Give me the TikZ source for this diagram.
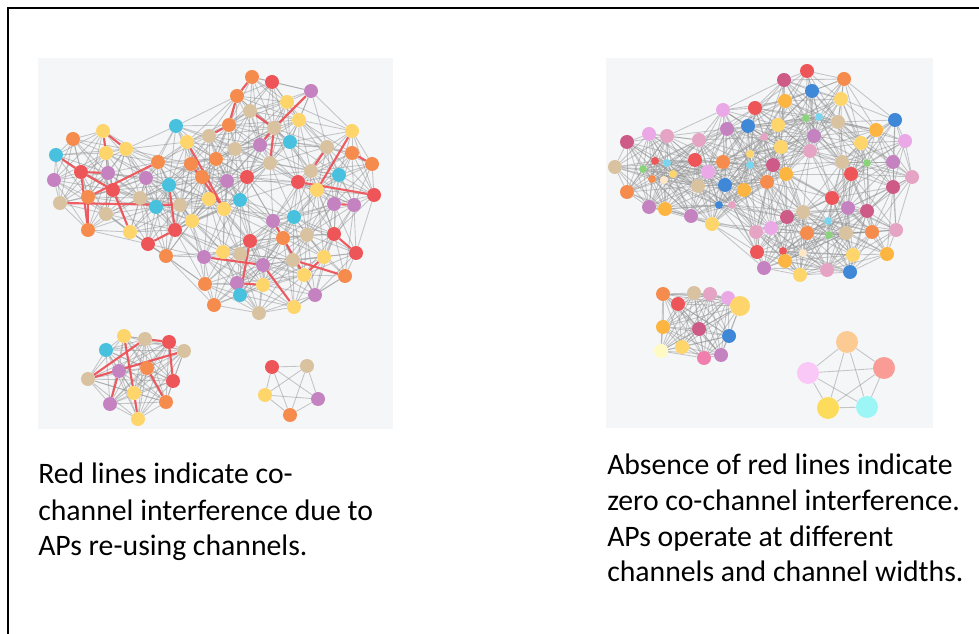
\documentclass[tikz,border=0pt]{standalone}
\usepackage{fontspec}
\setmainfont{Carlito}
\pgfdeclarelayer{bg}
\pgfsetlayers{bg,main}
\definecolor{panel}{HTML}{F5F6F8}
\definecolor{cO}{HTML}{F58C4E}
\definecolor{cR}{HTML}{EE5558}
\definecolor{cY}{HTML}{FDD56A}
\definecolor{cT}{HTML}{D8C2A0}
\definecolor{cP}{HTML}{C582C1}
\definecolor{cC}{HTML}{48C1DF}
\definecolor{cLV}{HTML}{EBA8E6}
\definecolor{cPK}{HTML}{E6A4C4}
\definecolor{cMG}{HTML}{CE5B87}
\definecolor{cBL}{HTML}{3F87D7}
\definecolor{cOY}{HTML}{FCB540}
\definecolor{cGR}{HTML}{8BD27C}
\definecolor{cCY}{HTML}{79D6EE}
\definecolor{cCR}{HTML}{FDE7C7}
\definecolor{cCR2}{HTML}{FFF9C4}
\definecolor{cHP}{HTML}{F07FAE}
\definecolor{cPE}{HTML}{FCCB94}
\definecolor{cSA}{HTML}{FA9C96}
\definecolor{cLL}{HTML}{F9C8F7}
\definecolor{cYY}{HTML}{FDDC5C}
\definecolor{cLC}{HTML}{9DF6F6}
\definecolor{redline}{HTML}{EF4F55}
\newcommand\leftnodes{a1/103/131/cY/7/1,a2/73/139/cO/7/1,a3/56/155/cC/7/1,a4/106/153/cY/7/1,
a5/126/149/cY/7/1,a6/81/172/cR/7/1,a7/108/173/cP/7/1,a8/54/180/cP/7/1,a9/113/190/cR/7/1,
a10/88/197/cO/7/1,a11/60/203/cT/7/1,a12/106/214/cT/7/1,a13/88/230/cO/7/1,a14/158/162/cO/7/1,
a15/146/178/cP/7/1,a16/169/185/cC/7/1,a17/140/198/cT/7/1,a18/156/207/cC/7/1,a19/180/205/cT/7/1,
a20/192/221/cY/7/1,a21/175/230/cR/7/1,a22/130/232/cY/7/1,a23/148/244/cR/7/1,a24/166/256/cO/7/1,
a25/176/126/cC/7/1,a26/187/142/cY/7/1,a27/209/136/cT/7/1,a28/191/164/cO/7/1,a29/216/159/cO/7/1,
a30/202/177/cO/7/1,a31/227/181/cP/7/1,a32/209/199/cY/7/1,a33/224/209/cY/7/1,a34/229/125/cO/7/1,
a35/237/96/cO/7/1,a36/252/77/cO/7/1,a37/272/82/cR/7/1,a38/311/91/cP/7/1,a39/287/102/cY/7/1,
a40/250/111/cT/7/1,a41/299/120/cY/7/1,a42/274/128/cT/7/1,a43/260/145/cP/7/1,a44/290/142/cC/7/1,
a45/235/149/cT/7/1,a46/270/163/cT/7/1,a47/247/177/cR/7/1,a48/240/200/cC/7/1,a49/352/131/cY/7/1,
a50/327/147/cT/7/1,a51/352/153/cO/7/1,a52/372/164/cO/7/1,a53/311/171/cT/7/1,a54/339/175/cC/7/1,
a55/298/182/cR/7/1,a56/317/190/cY/7/1,a57/374/195/cR/7/1,a58/334/204/cP/7/1,a59/354/205/cP/7/1,
a60/294/217/cC/7/1,a61/273/221/cP/7/1,a62/307/235/cT/7/1,a63/334/234/cR/7/1,a64/283/238/cO/7/1,
a65/250/241/cR/7/1,a66/223/252/cY/7/1,a67/240/254/cT/7/1,a68/204/257/cP/7/1,a69/263/265/cP/7/1,
a70/293/260/cT/7/1,a71/324/257/cY/7/1,a72/356/253/cR/7/1,a73/237/283/cP/7/1,a74/205/284/cO/7/1,
a75/263/285/cY/7/1,a76/240/295/cC/7/1,a77/304/275/cY/7/1,a78/345/276/cO/7/1,a79/315/295/cP/7/1,
a80/214/305/cO/7/1,a81/259/313/cT/7/1,a82/294/307/cY/7/1,
b1/124/336/cY/7/2,b2/145/339/cT/7/2,b3/169/342/cR/7/2,b4/106/350/cC/7/2,b5/184/351/cT/7/2,
b6/119/371/cP/7/2,b7/147/368/cO/7/2,b8/88/379/cT/7/2,b9/173/381/cR/7/2,b10/134/393/cY/7/2,
b11/166/402/cO/7/2,b12/110/404/cP/7/2,b13/138/419/cY/7/2,
c1/272/367/cR/7/3,c2/307/366/cT/7/3,c3/265/395/cY/7/3,c4/318/399/cP/7/3,c5/290/415/cO/7/3}
\newcommand\rightnodes{r1/723/110/cLV/7/4,r2/755/108/cR/7/4,r3/649/134/cLV/7/4,r4/667/136/cPK/7/4,
r5/627/142/cMG/7/4,r6/699/140/cPK/7/4,r7/727/129/cP/7/4,r8/748/126/cBL/7/4,r9/764/137/cPK/4/4,
r10/615/167/cT/7/4,r11/643/169/cGR/4/4,r12/655/161/cR/4/4,r13/667/163/cCY/4/4,r14/673/174/cY/4/4,
r15/652/179/cO/4/4,r16/664/180/cCR/4/4,r17/695/160/cR/7/4,r18/723/162/cO/7/4,r19/708/172/cLV/7/4,
r20/750/154/cY/4/4,r21/750/165/cCY/4/4,r22/773/165/cMG/7/4,r23/627/192/cO/7/4,r24/698/186/cT/7/4,
r25/725/185/cBL/7/4,r26/744/190/cOY/7/4,r27/767/182/cO/7/4,r28/649/207/cP/7/4,r29/665/209/cOY/7/4,
r30/719/205/cBL/4/4,r31/732/205/cPK/4/4,r32/691/216/cP/7/4,r33/712/224/cY/7/4,r34/807/71/cR/7/4,
r35/784/80/cMG/7/4,r36/844/79/cO/7/4,r37/812/91/cBL/7/4,r38/785/101/cOY/7/4,r39/841/99/cY/7/4,
r40/806/118/cGR/4/4,r41/819/117/cCY/4/4,r42/838/122/cT/7/4,r43/778/125/cY/7/4,r44/814/136/cP/7/4,
r45/781/147/cY/7/4,r46/810/151/cPK/7/4,r48/786/174/cOY/7/4,r50/895/120/cBL/7/4,r51/876/130/cOY/7/4,
r52/905/141/cLV/7/4,r53/861/143/cY/7/4,r54/842/162/cT/7/4,r55/867/163/cGR/4/4,r56/893/162/cP/7/4,
r57/851/174/cR/7/4,r58/912/177/cPK/7/4,r59/893/187/cMG/7/4,r60/832/198/cR/7/4,r61/848/208/cP/7/4,
r62/867/211/cMG/7/4,r63/803/212/cT/7/4,r64/787/217/cMG/7/4,r65/771/228/cLV/7/4,r66/756/232/cPK/7/4,
r67/828/221/cCY/4/4,r68/896/230/cPK/7/4,r69/807/233/cO/7/4,r70/846/233/cT/7/4,r71/872/232/cO/7/4,
r72/829/235/cGR/4/4,r73/757/252/cR/7/4,r74/783/251/cR/4/4,r75/803/253/cCR/4/4,r76/785/261/cOY/7/4,
r77/853/255/cY/7/4,r78/887/254/cOY/7/4,r79/764/268/cP/7/4,r80/800/275/cY/7/4,r81/827/270/cPK/7/4,
r82/850/272/cBL/7/4,
s1/663/294/cO/7/5,s2/694/293/cT/7/5,s3/710/294/cPK/7/5,s4/728/298/cLV/7/5,s5/740/306/cY/10/5,
s6/678/304/cR/7/5,s7/663/327/cOY/7/5,s8/699/329/cMG/7/5,s9/729/336/cBL/7/5,s10/661/351/cCR2/7/5,
s11/682/347/cY/7/5,s12/704/358/cHP/7/5,s13/721/355/cP/7/5,
p1/847/342/cPE/11/6,p2/884/368/cSA/11/6,p3/808/373/cLL/11/6,p4/828/408/cYY/11/6,p5/867/407/cLC/11/6}
\tikzset{
  dot/.style={circle,inner sep=0pt,draw=none},
  edge/.style={draw=gray!85,line width=0.65pt,opacity=0.5},
  redge/.style={draw=redline,line width=1.6pt,opacity=0.9},
  txt/.style={anchor=base west,inner sep=0pt,font=\fontsize{22.3pt}{26pt}\selectfont,text=black},
}
\newcommand\drawedges[1]{%
  \foreach \na/\xa/\ya/\ca/\ra/\ka [count=\i] in #1 {
    \foreach \nb/\xb/\yb/\cb/\rb/\kb [count=\j] in #1 {
      \ifnum\j>\i\relax
        \ifnum\ka=\kb\relax
          \pgfmathsetmacro\dd{veclen(\xa-\xb,\ya-\yb)}
          \pgfmathsetmacro\thr{(\ka==1||\ka==4)?72:300}
          \ifdim\dd pt<\thr pt\relax
            \draw[edge] (\na) -- (\nb);
          \fi
        \fi
      \fi
    }
  }%
}
\begin{document}
\begin{tikzpicture}[x=0.75pt,y=-0.75pt]
\useasboundingbox (0,0) rectangle (979,634);
\begin{pgfonlayer}{bg}
\fill[white] (0,0) rectangle (979,634);
\fill[panel] (38,58) rectangle (393,429);
\fill[panel] (606,58) rectangle (933,428);
\end{pgfonlayer}
\draw[line width=1.7pt,line join=miter] (8,640) -- (8,8) -- (985,8);
\foreach \n/\x/\y/\c/\r/\k in \leftnodes {
  \node[dot,fill=\c,minimum size={1.5*\r pt}] (\n) at (\x,\y) {};
}
\foreach \n/\x/\y/\c/\r/\k in \rightnodes {
  \node[dot,fill=\c,minimum size={1.5*\r pt}] (\n) at (\x,\y) {};
}
\begin{pgfonlayer}{bg}
\drawedges{\leftnodes}
\drawedges{\rightnodes}
\foreach \u/\v in {a1/a4,a1/a5,a6/a9,a6/a7,a6/a13,a3/a6,a11/a19,a10/a14,a10/a13,a16/a21,a21/a23,
  a26/a33,a28/a33,a27/a34,a36/a35,a35/a34,a40/a42,a42/a43,a42/a46,a38/a42,a49/a56,a55/a57,a58/a59,
  a51/a52,a50/a53,a68/a69,a65/a76,a69/a82,a73/a75,a64/a77,a77/a71,a63/a72,a70/a78,a61/a64,a22/a9,
  b2/b8,b3/b9,b5/b8,b6/b12,b7/b11,b1/b10,b10/b13,b2/b3} {
  \draw[redge] (\u) -- (\v);
}
\end{pgfonlayer}
\node[txt] (t1) at (38,484) {Red lines indicate co-};
\node[txt] (t2) at (38,521) {channel interference due to};
\node[txt] (t3) at (38,556) {APs re-using channels.};
\node[txt] (t4) at (607,475) {Absence of red lines indicate};
\node[txt] (t5) at (607,511) {zero co-channel interference.};
\node[txt] (t6) at (607,547) {APs operate at different};
\node[txt] (t7) at (607,582) {channels and channel widths.};
\end{tikzpicture}
\end{document}
